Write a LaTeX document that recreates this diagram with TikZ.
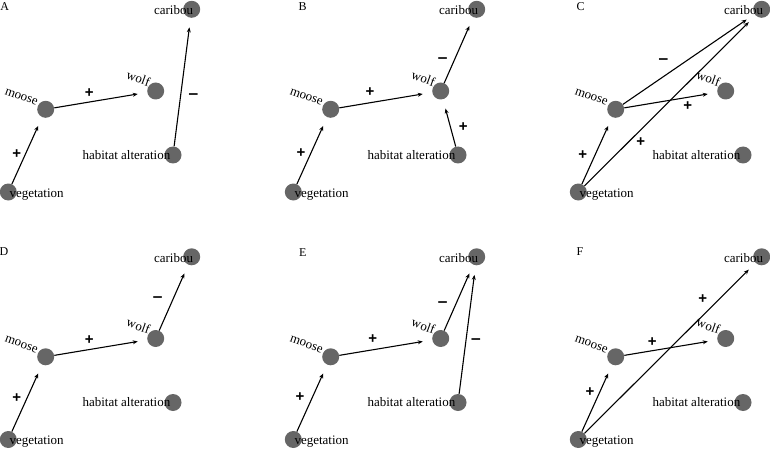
\documentclass[tikz,border=0pt]{standalone}
\usepackage{fontspec}
\usepackage{graphicx}
\setmainfont{Liberation Serif}
\newfontfamily\signfont{Liberation Sans}
\usetikzlibrary{arrows.meta}
\definecolor{nodegray}{RGB}{102,102,102}
\tikzset{
  vtx/.style={circle, fill=nodegray, minimum size=17pt, inner sep=0pt},
  lbl/.style={font=\fontsize{13}{13}\selectfont, inner sep=0pt},
  rlbl/.style={lbl, rotate=-20, anchor=base east},
  panellbl/.style={font=\fontsize{12}{12}\selectfont, inner sep=0pt},
  link/.style={-{Stealth[length=5pt,width=4pt]}, line width=1.1pt, shorten >=9.5pt},
  sgn/.style={font=\signfont\bfseries\fontsize{15}{15}\selectfont, inner sep=0pt},
}
\newcommand\mysign{\scalebox{1.15}[1]{−}}
\newcommand\foodweb[3]{%
  \begin{scope}[shift={(#2,#3)}]
    \node[vtx] (#1car) at (191.7,9.3) {};
    \node[vtx] (#1wol) at (155.7,91) {};
    \node[vtx] (#1moo) at (45.7,109.3) {};
    \node[vtx] (#1hab) at (173,155) {};
    \node[vtx] (#1veg) at (8.3,192) {};
    \node[lbl, anchor=base east] (#1carL) at ([shift={(1.5,5.7)}]#1car.center) {caribou};
    \node[rlbl] (#1wolL) at ([shift={(-7.4,-4.3)}]#1wol.center) {wolf};
    \node[rlbl] (#1mooL) at ([shift={(-9.3,-3.6)}]#1moo.center) {moose};
    \node[lbl, anchor=base east] (#1habL) at ([shift={(-2.5,4.2)}]#1hab.center) {habitat alteration};
    \node[lbl, anchor=base west] (#1vegL) at ([shift={(1,5)}]#1veg.center) {vegetation};
  \end{scope}}
\begin{document}
\begin{tikzpicture}[x=1pt,y=-1pt]
\useasboundingbox (0,0) rectangle (770,449);
\foodweb{A}{0}{0}
\foodweb{B}{285}{0}
\foodweb{C}{570}{0}
\foodweb{D}{0}{247.5}
\foodweb{E}{285}{247.5}
\foodweb{F}{570}{247.5}
% panel letters
\node[panellbl] (pA) at (4.7,6.3) {A};
\node[panellbl] (pB) at (302.7,6.7) {B};
\node[panellbl] (pC) at (580.7,6.7) {C};
\node[panellbl] (pD) at (4,251.7) {D};
\node[panellbl] (pE) at (302.7,252.3) {E};
\node[panellbl] (pF) at (580,251.7) {F};
% A
\draw[link] (Aveg) -- (Amoo);
\draw[link] (Amoo) -- (Awol);
\draw[link] (Ahab) -- (Acar);
\node[sgn] (sA1) at (89.3,92.7) {+};
\node[sgn] (sA2) at (16.7,154) {+};
\node[sgn] (sA3) at (193.3,96.7) {\mysign};
% B
\draw[link] (Bveg) -- (Bmoo);
\draw[link] (Bmoo) -- (Bwol);
\draw[link] (Bwol) -- (Bcar);
\draw[link] (Bhab) -- (Bwol);
\node[sgn] (sB1) at (370,91.7) {+};
\node[sgn] (sB2) at (301,153.3) {+};
\node[sgn] (sB3) at (442.7,61) {\mysign};
\node[sgn] (sB4) at (463.3,127.3) {+};
% C
\draw[link] (Cveg) -- (Cmoo);
\draw[link] (Cmoo) -- (Cwol);
\draw[link] (Cmoo) -- (Ccar);
\draw[link] (Cveg) -- (Ccar);
\node[sgn] (sC1) at (663.3,61.7) {\mysign};
\node[sgn] (sC2) at (687.7,106) {+};
\node[sgn] (sC3) at (640.7,142.3) {+};
\node[sgn] (sC4) at (582.7,155) {+};
% D
\draw[link] (Dveg) -- (Dmoo);
\draw[link] (Dmoo) -- (Dwol);
\draw[link] (Dwol) -- (Dcar);
\node[sgn] (sD1) at (157.7,299.3) {\mysign};
\node[sgn] (sD2) at (89.3,340) {+};
\node[sgn] (sD3) at (16.7,398.3) {+};
% E
\draw[link] (Eveg) -- (Emoo);
\draw[link] (Emoo) -- (Ewol);
\draw[link] (Ewol) -- (Ecar);
\draw[link] (Ehab) -- (Ecar);
\node[sgn] (sE1) at (442.7,305) {\mysign};
\node[sgn] (sE2) at (476,341.7) {\mysign};
\node[sgn] (sE3) at (372.7,339) {+};
\node[sgn] (sE4) at (300,397.3) {+};
% F
\draw[link] (Fveg) -- (Fmoo);
\draw[link] (Fmoo) -- (Fwol);
\draw[link] (Fveg) -- (Fcar);
\node[sgn] (sF1) at (702.7,299.3) {+};
\node[sgn] (sF2) at (652.3,341.7) {+};
\node[sgn] (sF3) at (590,391.7) {+};
\end{tikzpicture}
\end{document}
